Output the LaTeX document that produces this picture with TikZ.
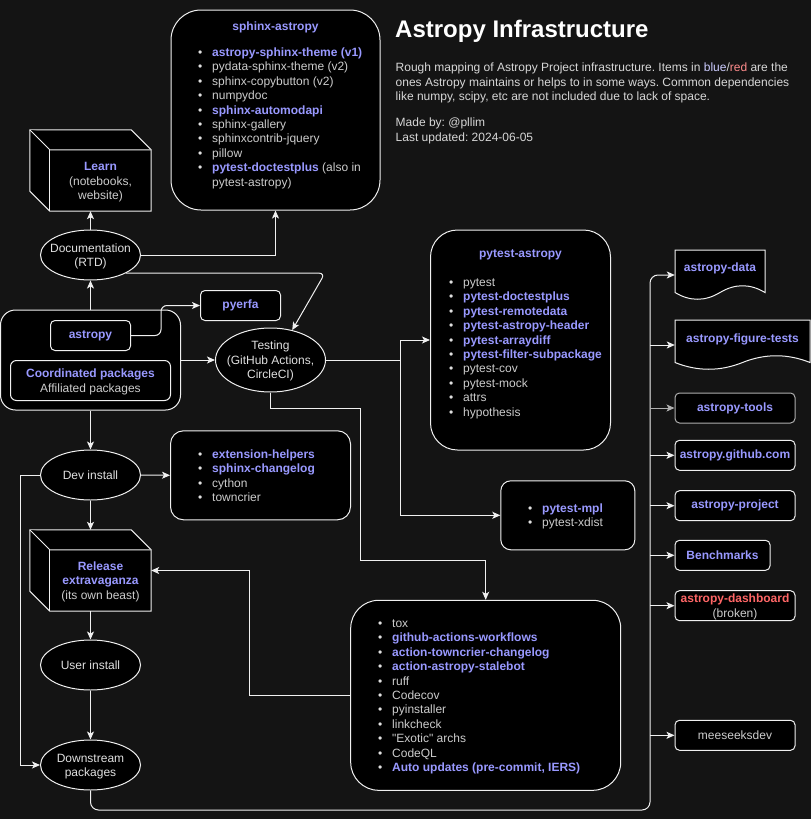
\documentclass[tikz,border=0pt]{standalone}
\usepackage{fontspec}
\setmainfont{Liberation Sans}
\usetikzlibrary{shapes.geometric,arrows.meta,calc}
\definecolor{cbg}{RGB}{20,20,20}
\definecolor{cblue}{RGB}{153,153,255}
\definecolor{cred}{RGB}{255,102,102}
\definecolor{cgray}{RGB}{204,204,204}
\definecolor{ctxt}{RGB}{224,224,224}
\definecolor{cline}{RGB}{240,240,240}
\definecolor{cpb}{RGB}{204,204,255}
\definecolor{cpr}{RGB}{255,140,140}
\definecolor{cdim}{RGB}{175,175,175}
\definecolor{cdesc}{RGB}{215,215,215}
\frenchspacing
\newcommand\ibul{\makebox[14pt][l]{\textbullet}}
\newcommand\itb[1]{\ibul\textcolor{cblue}{\bfseries #1}}
\newcommand\itg[1]{\ibul\textcolor{cgray}{#1}}
\newcommand\mlab[1]{\begin{tabular}{@{}c@{}}#1\end{tabular}}
\newcommand\cubeshape[1]{%
  \filldraw[cubeline] (#1.north west) -- ($(#1.north east)+(-20,0)$) -- ($(#1.north east)+(0,20)$) -- (#1.south east) -- ($(#1.south west)+(20,0)$) -- ($(#1.south west)+(0,-20)$) -- cycle;
  \draw[cubeline] (#1.north west) -- ($(#1.north west)+(20,20)$) -- ($(#1.north east)+(0,20)$);
  \draw[cubeline] ($(#1.north west)+(20,20)$) -- ($(#1.south west)+(20,0)$);}
\newcommand\docshape[3]{%
  \filldraw[cubeline] (#1,#2) -- ({#1+#3},#2) -- ({#1+#3},{#2+42.5})
   .. controls ({#1+5*#3/6},{#2+33.5}) and ({#1+2*#3/3},{#2+33.5}) .. ({#1+#3/2},{#2+42.5})
   .. controls ({#1+#3/3},{#2+51.5}) and ({#1+#3/6},{#2+51.5}) .. (#1,{#2+42.5}) -- cycle;}
\begin{document}
\begin{tikzpicture}[x=1pt, y=-1pt, font=\fontsize{12}{14.4}\selectfont,
  box/.style={draw=cline, fill=black, line width=1pt, inner sep=0pt, text=ctxt, rounded corners=#1},
  box/.default=4.5pt,
  ell/.style={ellipse, draw=cline, fill=black, line width=1pt, minimum width=100pt, minimum height=50pt, inner sep=0pt, text=ctxt},
  arr/.style={draw=cline, line width=1pt, -{Stealth[length=8pt,width=7pt,inset=2pt]}},
  lst/.style={anchor=base west, inner sep=0pt, text=ctxt},
  cubeline/.style={draw=cline, fill=black, line width=1pt, line join=miter},
  plain/.style={inner sep=0pt, text=ctxt}]
\fill[cbg] (0,0) rectangle (811,819);
\useasboundingbox (0,0) rectangle (811,819);

% title and description
\node[anchor=base west, inner sep=0pt, text=white, font=\fontsize{24}{28}\selectfont\bfseries] (title) at (395,37.5) {Astropy Infrastructure};
\node[lst, text=cdesc] (desc) at (395.5,71.7) {\begin{tabular}[t]{@{}l@{}}
Rough mapping of Astropy Project infrastructure. Items in \textcolor{cpb}{blue}/\textcolor{cpr}{red} are the\\
ones Astropy maintains or helps to in some ways. Common dependencies\\
like numpy, scipy, etc are not included due to lack of space.\end{tabular}};
\node[lst, text=cdesc] (made) at (395.5,126.7) {\begin{tabular}[t]{@{}l@{}}Made by: @pllim\\Last updated: 2024-06-05\end{tabular}};

% sphinx-astropy
\node[box=30pt, minimum width=209pt, minimum height=200pt] (sphx) at (275.5,110) {};
\node[anchor=base, plain, text=cblue] (sphxt) at (275.5,30.5) {\textbf{sphinx-astropy}};
\node[lst] (sphxl) at (198,56.5) {\begin{tabular}[t]{@{}l@{}}
\itb{astropy-sphinx-theme (v1)}\\
\itg{pydata-sphinx-theme (v2)}\\
\itg{sphinx-copybutton (v2)}\\
\itg{numpydoc}\\
\itb{sphinx-automodapi}\\
\itg{sphinx-gallery}\\
\itg{sphinxcontrib-jquery}\\
\itg{pillow}\\
\ibul\textcolor{cblue}{\bfseries pytest-doctestplus} \textcolor{cgray}{(also in}\\
\hspace*{14pt}\textcolor{cgray}{pytest-astropy)}
\end{tabular}};

% Learn cube
\node[minimum width=121pt, minimum height=81pt, inner sep=0pt] (learn) at (90.5,170.5) {};
\cubeshape{learn}
\node[plain] (learnt) at (100.5,182.5) {\mlab{\textcolor{cblue}{\bfseries Learn}\\\textcolor{cgray}{(notebooks,}\\\textcolor{cgray}{website)}}};

% Documentation
\node[ell] (doc) at (90.5,255) {};
\node[plain] (doct) at (90.5,256.5) {\mlab{Documentation\\(RTD)}};

% astropy container
\node[box=15pt, minimum width=180pt, minimum height=100pt] (apc) at (90.5,360) {};
\node[box, minimum width=80pt, minimum height=30pt, text=cblue] (astropy) at (90.5,335.5) {\textbf{astropy}};
\node[box=6pt, minimum width=160pt, minimum height=40pt] (coord) at (90.5,380.5) {};
\node[plain] (coordt) at (90.5,382) {\mlab{\textcolor{cblue}{\bfseries Coordinated packages}\\\textcolor{cgray}{Affiliated packages}}};
\node[box, minimum width=80pt, minimum height=30pt, text=cblue] (pyerfa) at (240.5,305.5) {\textbf{pyerfa}};

% Testing
\node[ell, minimum width=110pt, minimum height=64pt] (test) at (270.5,360) {};
\node[plain] (testt) at (270.5,361.5) {\mlab{Testing\\(GitHub Actions,\\CircleCI)}};

% pytest-astropy
\node[box=27pt, minimum width=180pt, minimum height=220pt] (pta) at (520.5,340) {};
\node[anchor=base, plain, text=cblue] (ptat) at (520.5,257) {\textbf{pytest-astropy}};
\node[lst] (ptal) at (449,286.5) {\begin{tabular}[t]{@{}l@{}}
\itg{pytest}\\
\itb{pytest-doctestplus}\\
\itb{pytest-remotedata}\\
\itb{pytest-astropy-header}\\
\itb{pytest-arraydiff}\\
\itb{pytest-filter-subpackage}\\
\itg{pytest-cov}\\
\itg{pytest-mock}\\
\itg{attrs}\\
\itg{hypothesis}
\end{tabular}};

% pytest-mpl
\node[box=10pt, minimum width=134pt, minimum height=69pt] (mpl) at (567.8,515.3) {};
\node[lst] (mpll) at (528,512.5) {\begin{tabular}[t]{@{}l@{}}
\itb{pytest-mpl}\\
\itg{pytest-xdist}
\end{tabular}};

% extension helpers
\node[box=13pt, minimum width=180pt, minimum height=89pt] (ext) at (260.5,475.3) {};
\node[lst] (extl) at (198,458.5) {\begin{tabular}[t]{@{}l@{}}
\itb{extension-helpers}\\
\itb{sphinx-changelog}\\
\itg{cython}\\
\itg{towncrier}
\end{tabular}};

% left column
\node[ell] (dev) at (90.5,475) {Dev install};
\node[minimum width=121pt, minimum height=81pt, inner sep=0pt] (rel) at (90.5,570.5) {};
\cubeshape{rel}
\node[plain] (relt) at (100.5,582) {\mlab{\textcolor{cblue}{\bfseries Release}\\\textcolor{cblue}{\bfseries extravaganza}\\\textcolor{cgray}{(its own beast)}}};
\node[ell] (user) at (90.5,665) {User install};
\node[ell] (down) at (90.5,765) {};
\node[plain] (downt) at (90.5,766.5) {\mlab{Downstream\\packages}};

% tox box
\node[box=28pt, minimum width=270pt, minimum height=190pt] (tox) at (485.7,695.3) {};
\node[lst] (toxl) at (378,627.5) {\begin{tabular}[t]{@{}l@{}}
\itg{tox}\\
\itb{github-actions-workflows}\\
\itb{action-towncrier-changelog}\\
\itb{action-astropy-stalebot}\\
\itg{ruff}\\
\itg{Codecov}\\
\itg{pyinstaller}\\
\itg{linkcheck}\\
\itg{\textquotedbl Exotic\textquotedbl\ archs}\\
\itg{CodeQL}\\
\itb{Auto updates (pre-commit, IERS)}
\end{tabular}};

% right column
\node[minimum width=90pt, minimum height=50pt, inner sep=0pt] (data) at (720,275) {};
\docshape{675}{250}{90}
\node[plain, text=cblue] (datat) at (720,268.5) {\textbf{astropy-data}};
\node[minimum width=135pt, minimum height=50pt, inner sep=0pt] (figt) at (742.5,345) {};
\docshape{675}{320}{135}
\node[plain, text=cblue] (figtt) at (742.5,339) {\textbf{astropy-figure-tests}};
\node[box, draw=cdim, minimum width=120pt, minimum height=30pt, text=cblue] (tools) at (735,408) {\textbf{astropy-tools}};
\node[box, minimum width=120pt, minimum height=30pt, text=cblue] (ghcom) at (735,455.3) {\textbf{astropy.github.com}};
\node[box, minimum width=120pt, minimum height=30pt, text=cblue] (proj) at (735,505.7) {\textbf{astropy-project}};
\node[box, minimum width=95pt, minimum height=30pt, text=cblue] (bench) at (722.5,555.3) {\textbf{Benchmarks}};
\node[box, minimum width=120pt, minimum height=30pt] (dash) at (735,605.7) {};
\node[plain] (dasht) at (735,607) {\mlab{\textcolor{cred}{\bfseries astropy-dashboard}\\\textcolor{cgray}{(broken)}}};
\node[box, minimum width=120pt, minimum height=30pt, text=cgray] (mees) at (735,735.3) {meeseeksdev};

% connectors
\draw[arr] (doc.north) -- (learn.south);
\draw[arr] (doc.east) -| (sphx.south);
\coordinate (dt) at (325,273);
\draw[arr, rounded corners=6pt] (doc.-27) -- (doc.-27 -| dt) -- (test.54);
\draw[arr] (apc.north) -- (doc.south);
\draw[arr, rounded corners=6pt] (astropy.east) -- ++(30,0) |- (pyerfa.west);
\draw[arr] (apc.east) -- (test.west);
\draw[arr] (test.east) -- ++(74.5,0) |- (pta.west);
\draw[arr] (test.east) -- ++(74.5,0) |- (mpl.west);
\coordinate (t1) at (360,408);
\coordinate (t2) at (485.7,560);
\draw[arr] (test.south) |- (t1) |- (t2) -- (t2 |- tox.north);
\draw[arr] (apc.south) -- (dev.north);
\draw[arr] (dev.east) -- (ext.west);
\draw[arr] (dev.south) -- (rel.north);
\draw[arr] (dev.west) -- ++(-20,0) |- (down.west);
\draw[arr] (rel.south) -- (user.north);
\draw[arr] (user.south) -- (down.north);
\draw[arr] (tox.west) -- ++(-100.7,0) |- (rel.east);
\coordinate (busb) at (650,810);
\draw[arr, rounded corners=8pt] (down.south) |- (busb) |- (data.west);
\draw[arr] (busb |- figt.west) -- (figt.west);
\draw[arr, draw=cdim] (busb |- tools.west) -- (tools.west);
\draw[arr] (busb |- ghcom.west) -- (ghcom.west);
\draw[arr] (busb |- proj.west) -- (proj.west);
\draw[arr] (busb |- bench.west) -- (bench.west);
\draw[arr] (busb |- dash.west) -- (dash.west);
\draw[arr] (busb |- mees.west) -- (mees.west);
\end{tikzpicture}
\end{document}
